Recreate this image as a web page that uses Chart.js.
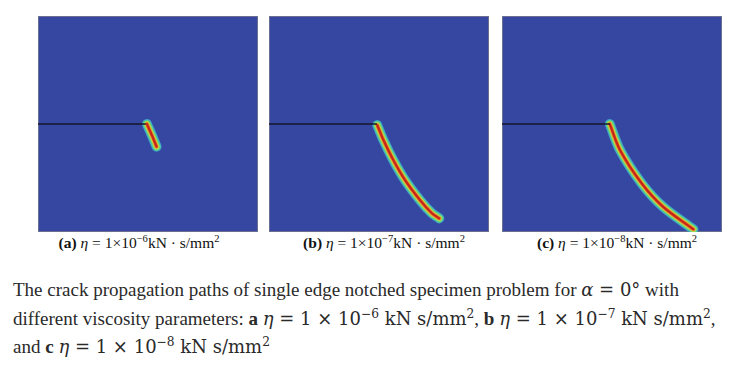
<!DOCTYPE html>
<html>
<head>
<meta charset="utf-8">
<script src="https://cdn.jsdelivr.net/npm/chart.js@4/dist/chart.umd.min.js"></script>
<style>
    html, body { margin: 0; padding: 0; background: #fff; }
    body { width: 744px; height: 365px; overflow: hidden; position: relative; }
    .panel { position: absolute; top: 16px; width: 220px; height: 216px; }
    .panel canvas { display: block; }
    .sub { position: absolute; top: 234px; width: 240px; text-align: center;
           font-family: "Liberation Serif", serif; font-size: 15.5px; color: #111; white-space: nowrap; }
    .sub b { font-weight: bold; }
    .sub sup, .cap sup { font-size: 0.68em; line-height: 0; vertical-align: 0.55em; }
    .cap { position: absolute; left: 13px; font-family: "Liberation Serif", serif; font-size: 19px;
           color: #2a2a2a; white-space: nowrap; line-height: 28px; }
    .m { font-family: "DejaVu Serif", serif; font-size: 18px; }
    .m i { font-style: italic; }
</style>
</head>
<body>
<div class="panel" id="pa" style="left:38px"><canvas id="cA" width="220" height="216"></canvas></div>
<div class="panel" id="pb" style="left:269px"><canvas id="cB" width="220" height="216"></canvas></div>
<div class="panel" id="pc" style="left:502px"><canvas id="cC" width="220" height="216"></canvas></div>

<div class="sub" style="left:19px"><b>(a)</b> <i>η</i> = 1×10<sup>−6</sup>kN · s/mm<sup>2</sup></div>
<div class="sub" style="left:264px"><b>(b)</b> <i>η</i> = 1×10<sup>−7</sup>kN · s/mm<sup>2</sup></div>
<div class="sub" style="left:497px"><b>(c)</b> <i>η</i> = 1×10<sup>−8</sup>kN · s/mm<sup>2</sup></div>

<div class="cap" style="top:276px">The crack propagation paths of single edge notched specimen problem for <span class="m"><i>α</i> = 0°</span> with</div>
<div class="cap" style="top:305px">different viscosity parameters: <b>a</b> <span class="m"><i>η</i> = 1 × 10<sup>−6</sup> kN s/mm<sup>2</sup></span>, <b>b</b> <span class="m"><i>η</i> = 1 × 10<sup>−7</sup> kN s/mm<sup>2</sup></span>,</div>
<div class="cap" style="top:333px">and <b>c</b> <span class="m"><i>η</i> = 1 × 10<sup>−8</sup> kN s/mm<sup>2</sup></span></div>

<script>
// === DATEN (Anteile der Probenbreite/-höhe, 0..1) ===
const NOTCH_X = [0, 0.49];
const NOTCH_Y = [0.5, 0.5];

const CRACK_A_X = [0.495, 0.518, 0.539];
const CRACK_A_Y = [0.5, 0.447, 0.395];

const CRACK_B_X = [0.492, 0.52, 0.565, 0.618, 0.686, 0.74, 0.774];
const CRACK_B_Y = [0.495, 0.426, 0.333, 0.241, 0.148, 0.087, 0.063];

const CRACK_C_X = [0.49, 0.536, 0.635, 0.732, 0.87];
const CRACK_C_Y = [0.5, 0.38, 0.225, 0.117, 0.0125];

// === FARBEN ===
const BG_BLUE = '#3547a0';
const CRACK_LAYERS = [
    { width: 1.8, color: '#c4221c' },
    { width: 3.2, color: '#e0561e' },
    { width: 4.6, color: '#e2c23a' },
    { width: 6.4, color: '#8fdc5c' },
    { width: 8.2, color: '#4cc8a0' },
    { width: 10.0, color: '#3f9fc8' }
];

// Hintergrund + Rahmen der Probe
const specimenBg = {
    id: 'specimenBg',
    beforeDraw(chart) {
        const { ctx, chartArea: a } = chart;
        ctx.save();
        ctx.fillStyle = BG_BLUE;
        ctx.fillRect(a.left, a.top, a.right - a.left, a.bottom - a.top);
        ctx.strokeStyle = '#6b7090';
        ctx.lineWidth = 1;
        ctx.strokeRect(a.left + 0.5, a.top + 0.5, a.right - a.left - 1, a.bottom - a.top - 1);
        ctx.restore();
    }
};

const toPoints = (xs, ys) => xs.map((x, i) => ({ x, y: ys[i] }));

function buildDatasets(crackX, crackY) {
    const pts = toPoints(crackX, crackY);
    const sets = [{
        data: toPoints(NOTCH_X, NOTCH_Y),
        borderColor: '#15152a',
        borderWidth: 1.6,
        tension: 0,
        order: 0
    }];
    CRACK_LAYERS.forEach((layer, i) => {
        sets.push({
            data: pts,
            borderColor: layer.color,
            borderWidth: layer.width,
            borderCapStyle: 'round',
            borderJoinStyle: 'round',
            tension: 0.3,
            order: i + 1
        });
    });
    return sets;
}

function createPanel(canvasId, crackX, crackY) {
    return new Chart(document.getElementById(canvasId), {
        type: 'line',
        data: { datasets: buildDatasets(crackX, crackY) },
        options: {
            responsive: false,
            animation: false,
            events: [],
            layout: { padding: 0 },
            elements: { point: { radius: 0 } },
            plugins: { legend: { display: false }, tooltip: { enabled: false } },
            scales: {
                x: { type: 'linear', min: 0, max: 1, display: false },
                y: { type: 'linear', min: 0, max: 1, display: false }
            }
        },
        plugins: [specimenBg]
    });
}

createPanel('cA', CRACK_A_X, CRACK_A_Y);
createPanel('cB', CRACK_B_X, CRACK_B_Y);
createPanel('cC', CRACK_C_X, CRACK_C_Y);
</script>
</body>
</html>
